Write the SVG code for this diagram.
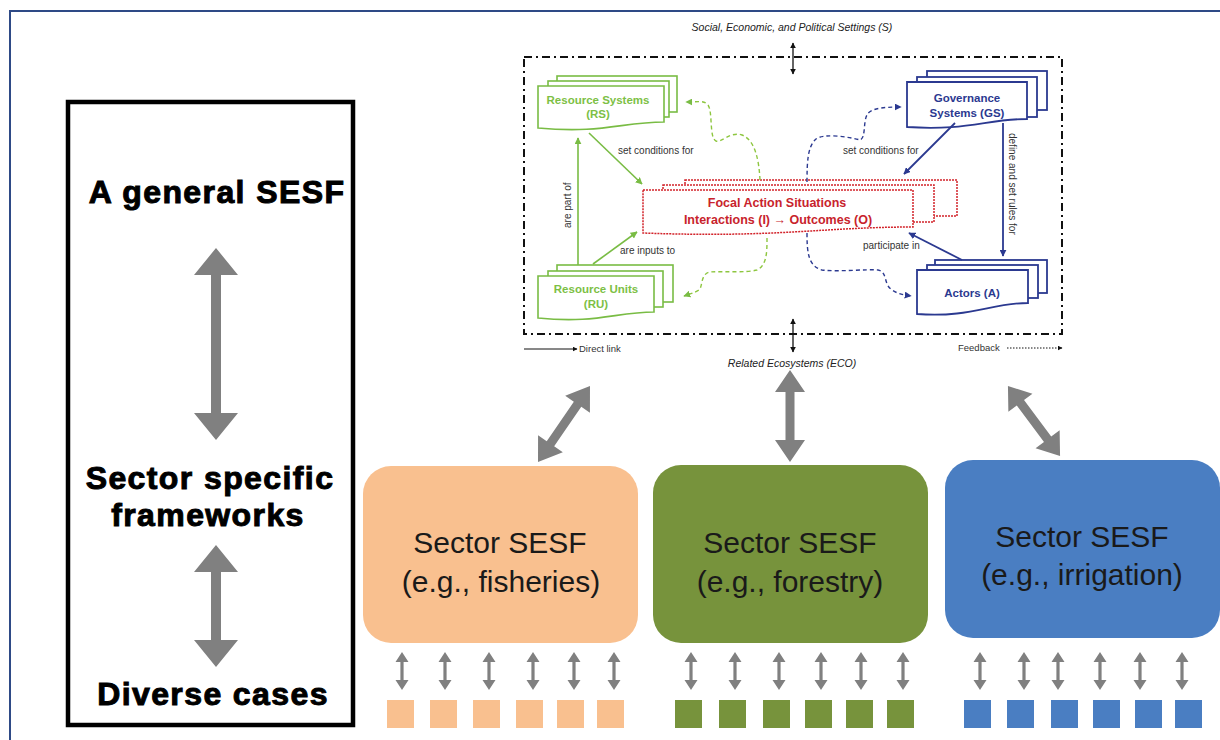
<svg xmlns="http://www.w3.org/2000/svg" xmlns:xlink="http://www.w3.org/1999/xlink" width="1220" height="740" viewBox="0 0 1220 740">
  <style>
    .heavy { font-family: "Liberation Sans", Arial, sans-serif; font-weight: bold; font-size: 32px; fill: #000; stroke: #000; stroke-width: 1px; letter-spacing: 1.4px; text-anchor: middle; }
    .sector { font-family: "Liberation Sans", Arial, sans-serif; font-size: 30px; fill: #1a1a1a; text-anchor: middle; }
    .cap { font-family: "Liberation Sans", Arial, sans-serif; font-style: italic; font-size: 10.5px; fill: #222; text-anchor: middle; }
    .lbl { font-family: "Liberation Sans", Arial, sans-serif; font-size: 10px; fill: #333; }
    .gtxt { font-family: "Liberation Sans", Arial, sans-serif; font-weight: bold; font-size: 11.5px; fill: #7DBF45; text-anchor: middle; }
    .btxt { font-family: "Liberation Sans", Arial, sans-serif; font-weight: bold; font-size: 11.5px; fill: #2B3990; text-anchor: middle; }
    .rtxt { font-family: "Liberation Sans", Arial, sans-serif; font-weight: bold; font-size: 12.5px; fill: #C8232C; text-anchor: middle; }
    .gbox { fill: #fff; stroke: #79BC44; stroke-width: 1.6; }
    .bbox { fill: #fff; stroke: #2B3990; stroke-width: 1.8; }
    .rbox { fill: #fff; stroke: #D2232A; stroke-width: 1.5; stroke-dasharray: 2 1; }
    .gline { fill: none; stroke: #79BC44; stroke-width: 1.6; marker-end: url(#ahG); }
    .bline { fill: none; stroke: #2B3990; stroke-width: 1.8; marker-end: url(#ahB); }
    .gdash { fill: none; stroke: #8DC63F; stroke-width: 1.4; stroke-dasharray: 4 3; marker-end: url(#ahG); }
    .bdash { fill: none; stroke: #2B3990; stroke-width: 1.4; stroke-dasharray: 4 3; marker-end: url(#ahB); }
    .grey { fill: #808080; }
  </style>
  <defs>
    <marker id="ahG" viewBox="0 0 10 10" refX="9" refY="5" markerWidth="7" markerHeight="7" markerUnits="userSpaceOnUse" orient="auto">
      <path d="M0,0 L10,5 L0,10 Z" fill="#79BC44"/>
    </marker>
    <marker id="ahB" viewBox="0 0 10 10" refX="9" refY="5" markerWidth="7" markerHeight="7" markerUnits="userSpaceOnUse" orient="auto">
      <path d="M0,0 L10,5 L0,10 Z" fill="#2B3990"/>
    </marker>
    <marker id="ahK" viewBox="0 0 10 10" refX="9" refY="5" markerWidth="5" markerHeight="5" markerUnits="userSpaceOnUse" orient="auto">
      <path d="M0,0 L10,5 L0,10 Z" fill="#111"/>
    </marker>
    <marker id="ahK2" viewBox="0 0 10 10" refX="9" refY="5" markerWidth="6" markerHeight="6" markerUnits="userSpaceOnUse" orient="auto-start-reverse">
      <path d="M0,0 L10,5 L0,10 Z" fill="#111"/>
    </marker>
    <!-- small two-way arrow between a sector framework and a case -->
    <path id="smallArrow" d="M0,-19 L6.5,-9 L1.6,-9 L1.6,9 L6.5,9 L0,19 L-6.5,9 L-1.6,9 L-1.6,-9 L-6.5,-9 Z"/>
    <!-- medium two-way arrow linking the general SESF to a sector SESF -->
    <path id="midArrow" d="M0,-46 L15,-24 L4.5,-24 L4.5,24 L15,24 L0,46 L-15,24 L-4.5,24 L-4.5,-24 L-15,-24 Z"/>
  </defs>

  <rect width="1220" height="740" fill="#fff"/>
  <!-- slide frame -->
  <path d="M10,740 V11 H1220" fill="none" stroke="#2E4A86" stroke-width="2"/>

  <!-- left column: levels of the framework -->
  <g id="levels">
    <rect x="68" y="102" width="285" height="623" fill="#fff" stroke="#000" stroke-width="4.5"/>
    <text class="heavy" x="217" y="203">A general SESF</text>
    <text class="heavy" x="210" y="489">Sector specific</text>
    <text class="heavy" x="208" y="526">frameworks</text>
    <text class="heavy" x="213" y="705">Diverse cases</text>
    <path class="grey" d="M216,248 L238,275 L221,275 L221,413 L238,413 L216,440 L194,413 L211,413 L211,275 L194,275 Z"/>
    <path class="grey" d="M216,545 L238,572 L221,572 L221,640 L238,640 L216,667 L194,640 L211,640 L211,572 L194,572 Z"/>
  </g>

  <!-- general SESF -->
  <g id="general-sesf">
    <text class="cap" x="792" y="31">Social, Economic, and Political Settings (S)</text>
    <rect x="524" y="57" width="538" height="277" fill="none" stroke="#111" stroke-width="2" stroke-dasharray="8 4 2 4"/>
    <line x1="793" y1="43" x2="793" y2="74" stroke="#111" stroke-width="1.3" marker-start="url(#ahK2)" marker-end="url(#ahK2)"/>
    <line x1="793" y1="319" x2="793" y2="352" stroke="#111" stroke-width="1.3" marker-start="url(#ahK2)" marker-end="url(#ahK2)"/>
    <text class="cap" x="792" y="367">Related Ecosystems (ECO)</text>
    <line x1="524" y1="349" x2="577" y2="349" stroke="#111" stroke-width="1" marker-end="url(#ahK)"/>
    <text class="lbl" x="579" y="352" style="font-size:9.5px">Direct link</text>
    <text class="lbl" x="958" y="351" style="font-size:9.5px">Feedback</text>
    <line x1="1007" y1="348" x2="1062" y2="348" stroke="#111" stroke-width="1" stroke-dasharray="1.5 1.5" marker-end="url(#ahK)"/>

    <g id="resource-systems">
      <rect class="gbox" x="557" y="76" width="120" height="36"/>
      <rect class="gbox" x="548" y="81" width="121" height="36"/>
      <path class="gbox" d="M538,86 H664 V122 C622,122 602,134 538,128 Z"/>
      <text class="gtxt" x="598" y="104">Resource Systems</text>
      <text class="gtxt" x="598" y="118">(RS)</text>
    </g>

    <g id="resource-units">
      <rect class="gbox" x="557" y="265" width="116" height="37"/>
      <rect class="gbox" x="548" y="271" width="115" height="36"/>
      <path class="gbox" d="M538,276 H654 V312 C616,312 596,324 538,318 Z"/>
      <text class="gtxt" x="596" y="293">Resource Units</text>
      <text class="gtxt" x="596" y="308">(RU)</text>
    </g>

    <g id="focal-action-situations">
      <rect class="rbox" x="685" y="180" width="272" height="36"/>
      <rect class="rbox" x="663" y="185" width="271" height="37"/>
      <path class="rbox" d="M643,190 H913 V227 C823,227 778,238 643,233 Z"/>
      <text class="rtxt" x="777" y="207">Focal Action Situations</text>
      <text class="rtxt" x="778" y="224">Interactions (I) → Outcomes (O)</text>
    </g>

    <g id="governance-systems">
      <rect class="bbox" x="927" y="71" width="120" height="39"/>
      <rect class="bbox" x="917" y="77" width="120" height="40"/>
      <path class="bbox" d="M907,82 H1027 V119 C987,119 967,131 907,127 Z"/>
      <text class="btxt" x="967" y="102">Governance</text>
      <text class="btxt" x="967" y="117">Systems (GS)</text>
    </g>

    <g id="actors">
      <rect class="bbox" x="935" y="260" width="112" height="33"/>
      <rect class="bbox" x="927" y="265" width="111" height="33"/>
      <path class="bbox" d="M917,270 H1028 V303 C991,303 971,318 917,314 Z"/>
      <text class="btxt" x="972" y="297">Actors (A)</text>
    </g>

    <g id="connectors">
      <line class="gline" x1="589" y1="133" x2="642" y2="184"/>
      <text class="lbl" x="618" y="154">set conditions for</text>
      <line class="gline" x1="578" y1="265" x2="578" y2="138"/>
      <text class="lbl" transform="translate(571,228) rotate(-90)">are  part of</text>
      <line class="gline" x1="593" y1="264" x2="637" y2="232"/>
      <text class="lbl" x="620" y="254">are inputs to</text>
      <path class="gdash" d="M760,180 C759,160 755,140 742,135 C730,131 722,143 716,141 C709,138 713,112 708,105 C704,100 698,102 686,102"/>
      <path class="gdash" d="M767,238 C767,252 767,265 757,270 C745,273 725,271 710,272 C700,274 703,287 699,290 C694,293 690,294 684,296"/>

      <line class="bline" x1="955" y1="123" x2="904" y2="174"/>
      <text class="lbl" x="843" y="154">set conditions for</text>
      <line class="bline" x1="1003" y1="123" x2="1003" y2="256"/>
      <text class="lbl" transform="translate(1009,133) rotate(90)">define and set rules for</text>
      <line class="bline" x1="962" y1="260" x2="909" y2="233"/>
      <text class="lbl" x="863" y="249">participate in</text>
      <path class="bdash" d="M807,182 C807,160 808,146 816,139 C824,133 850,137 860,140 C866,138 863,122 867,115 C870,109 880,107 901,107"/>
      <path class="bdash" d="M807,233 C807,252 808,266 822,270 C840,272 865,269 878,270 C888,272 883,284 892,290 C898,294 904,295 911,296"/>
    </g>
  </g>

  <!-- links from the general SESF to the sector frameworks -->
  <g id="sector-links">
    <use href="#midArrow" class="grey" transform="translate(564,424) rotate(34.4)"/>
    <use href="#midArrow" class="grey" transform="translate(790,416)"/>
    <use href="#midArrow" class="grey" transform="translate(1034,421) rotate(-36.6) scale(1,0.95)"/>
  </g>

  <!-- sector frameworks -->
  <g id="sector-fisheries">
    <rect x="363" y="466" width="275" height="177" rx="28" fill="#F9C08F"/>
    <text class="sector" x="500" y="553">Sector SESF</text>
    <text class="sector" x="501" y="592">(e.g., fisheries)</text>
  </g>
  <g id="sector-forestry">
    <rect x="653" y="465" width="275" height="178" rx="28" fill="#77933C"/>
    <text class="sector" x="790" y="553">Sector SESF</text>
    <text class="sector" x="790" y="592">(e.g., forestry)</text>
  </g>
  <g id="sector-irrigation">
    <rect x="945" y="460" width="275" height="178" rx="28" fill="#4A7EC2"/>
    <text class="sector" x="1082" y="547">Sector SESF</text>
    <text class="sector" x="1082" y="585">(e.g., irrigation)</text>
  </g>

  <!-- case links -->
  <g id="case-links" class="grey">
    <use href="#smallArrow" x="402" y="671"/>
    <use href="#smallArrow" x="445" y="671"/>
    <use href="#smallArrow" x="489" y="671"/>
    <use href="#smallArrow" x="533" y="671"/>
    <use href="#smallArrow" x="574" y="671"/>
    <use href="#smallArrow" x="614" y="671"/>
    <use href="#smallArrow" x="691" y="671"/>
    <use href="#smallArrow" x="735" y="671"/>
    <use href="#smallArrow" x="779" y="671"/>
    <use href="#smallArrow" x="821" y="671"/>
    <use href="#smallArrow" x="861" y="671"/>
    <use href="#smallArrow" x="903" y="671"/>
    <use href="#smallArrow" x="980" y="671"/>
    <use href="#smallArrow" x="1024" y="671"/>
    <use href="#smallArrow" x="1058" y="671"/>
    <use href="#smallArrow" x="1100" y="671"/>
    <use href="#smallArrow" x="1140" y="671"/>
    <use href="#smallArrow" x="1182" y="671"/>
  </g>

  <!-- cases -->
  <g id="cases">
    <g fill="#F9C08F">
      <rect x="387" y="700" width="27" height="28"/>
      <rect x="430" y="700" width="27" height="28"/>
      <rect x="473" y="700" width="27" height="28"/>
      <rect x="516" y="700" width="27" height="28"/>
      <rect x="557" y="700" width="27" height="28"/>
      <rect x="597" y="700" width="27" height="28"/>
    </g>
    <g fill="#77933C">
      <rect x="675" y="700" width="27" height="28"/>
      <rect x="719" y="700" width="27" height="28"/>
      <rect x="763" y="700" width="27" height="28"/>
      <rect x="805" y="700" width="27" height="28"/>
      <rect x="846" y="700" width="27" height="28"/>
      <rect x="887" y="700" width="27" height="28"/>
    </g>
    <g fill="#4A7EC2">
      <rect x="964" y="700" width="27" height="28"/>
      <rect x="1007" y="700" width="27" height="28"/>
      <rect x="1051" y="700" width="27" height="28"/>
      <rect x="1093" y="700" width="27" height="28"/>
      <rect x="1135" y="700" width="27" height="28"/>
      <rect x="1175" y="700" width="27" height="28"/>
    </g>
  </g>
</svg>
